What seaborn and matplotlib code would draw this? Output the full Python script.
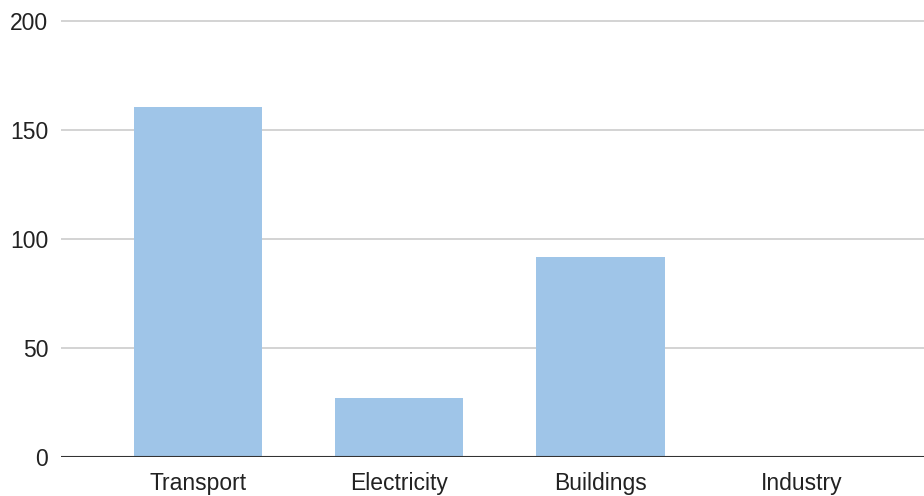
import matplotlib
matplotlib.use("Agg")
import matplotlib.pyplot as plt
import seaborn as sns
import pandas as pd

categories = ["Transport", "Electricity", "Buildings", "Industry"]
values = [160.4, 27.1, 91.5, 0]
y_ticks = [0, 50, 100, 150, 200]

sns.set_theme(style="white")
plt.rcParams["font.family"] = ["Liberation Sans", "DejaVu Sans"]

df = pd.DataFrame({"sector": categories, "value": values})

fig = plt.figure(figsize=(9.24, 4.96), dpi=100)
ax = fig.add_axes([61.3 / 924, 39.3 / 496, 1 - 61.3 / 924, (456.7 - 20) / 496])

sns.barplot(data=df, x="sector", y="value", color="#9fc5e8", saturation=1,
            width=0.64, ax=ax, zorder=3, linewidth=0)

ax.set_ylim(0, 200 * (436.7 / 435.7))
ax.set_xlim(-0.68, 3.61)
ax.set_yticks(y_ticks)
ax.set_yticklabels([str(t) for t in y_ticks])
ax.yaxis.grid(True, color="#cccccc", linewidth=1.2, zorder=0)
ax.xaxis.grid(False)
ax.axhline(0, color="#333333", linewidth=1.5, zorder=4)
for s in ax.spines.values():
    s.set_visible(False)
ax.tick_params(axis="both", length=0, labelsize=16.5, colors="#222222")
ax.tick_params(axis="y", pad=9.5)
ax.tick_params(axis="x", pad=11)
ax.set_xlabel("")
ax.set_ylabel("")

fig.savefig("out.png", dpi=100)
